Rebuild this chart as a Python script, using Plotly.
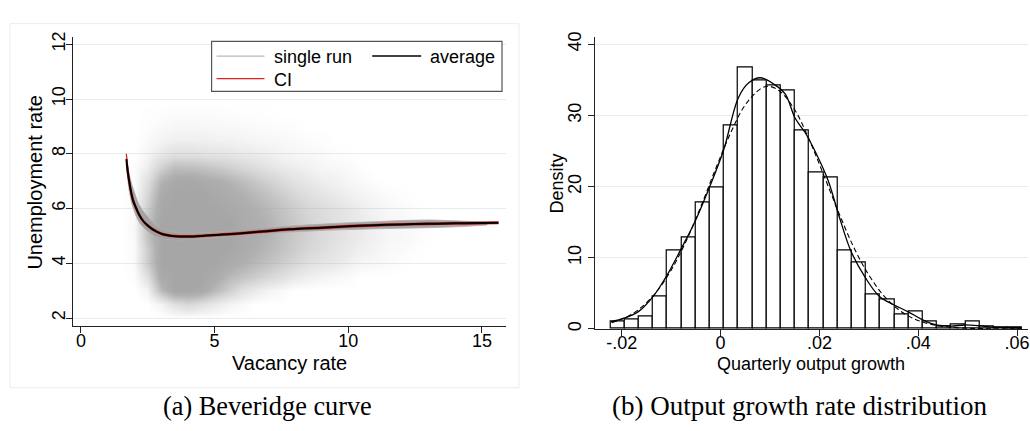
import plotly.graph_objects as go

W, H = 1030, 431
def X(px): return px / W
def Y(py): return 1 - py / H

# ---------------- Panel (a): Beveridge curve ----------------
# density grid of the simulated cloud (levels 0-5)
cloud_x = [1.5, 2.0, 2.5, 3.0, 3.5, 4.0, 4.5, 5.0, 5.5, 6.0, 6.5, 7.0, 7.5, 8.0, 8.5,
           9.0, 9.5, 10.0, 10.5, 11.0, 11.5, 12.0, 12.5, 13.0, 13.5, 14.0, 14.5]
cloud_y = [2.0, 2.5, 3.0, 3.5, 4.0, 4.5, 5.0, 5.5, 6.0, 6.5, 7.0, 7.5, 8.0, 8.5, 9.0, 9.5, 10.0]
cloud_z = [
    [0, 0, 0, 0, 0, 0, 0, 0, 0, 0, 0, 0, 0, 0, 0, 0, 0, 0, 0, 0, 0, 0, 0, 0, 0, 0, 0],
    [0, 0, 0, 0.5, 1.5, 2, 1.5, 1, 0.5, 0.3, 0, 0, 0, 0, 0, 0, 0, 0, 0, 0, 0, 0, 0, 0, 0, 0, 0],
    [0, 0, 0.5, 3.5, 5, 5, 4.7, 3.5, 2.5, 1.5, 1, 0.5, 0.3, 0, 0, 0, 0, 0, 0, 0, 0, 0, 0, 0, 0, 0, 0],
    [0, 0.1, 1.5, 4.5, 5, 5, 5, 4.5, 3.5, 3, 2.5, 2, 1.5, 1, 0.7, 0.5, 0.3, 0.2, 0, 0, 0, 0, 0, 0, 0, 0, 0],
    [0, 0.2, 2.5, 5, 5, 5, 5, 5, 4.5, 4, 3.5, 3, 2.5, 2, 1.5, 1.2, 1, 0.7, 0.4, 0.3, 0.2, 0.1, 0, 0, 0, 0, 0],
    [0, 0.2, 2.5, 5, 5, 5, 5, 5, 5, 4.5, 4, 3.5, 3, 2.5, 2, 1.7, 1.3, 1, 0.7, 0.5, 0.3, 0.2, 0.1, 0, 0, 0, 0],
    [0, 0.3, 3, 5, 5, 5, 5, 5, 5, 4.5, 4.2, 3.8, 3.2, 2.7, 2.2, 1.8, 1.5, 1.2, 0.9, 0.6, 0.4, 0.3, 0.2, 0.1, 0, 0, 0],
    [0, 0.3, 3, 5, 5, 5, 5, 5, 5, 4.5, 4.2, 3.8, 3.2, 2.7, 2.2, 1.8, 1.5, 1.2, 0.9, 0.6, 0.4, 0.3, 0.2, 0.1, 0, 0, 0],
    [0, 0.2, 2.5, 4.8, 5, 5, 5, 5, 4.7, 4.3, 4, 3.5, 3, 2.5, 2, 1.7, 1.4, 1.1, 0.8, 0.5, 0.3, 0.2, 0.1, 0, 0, 0, 0],
    [0, 0.2, 2, 4.5, 5, 5, 5, 4.7, 4.3, 4, 3.5, 3, 2.5, 2, 1.6, 1.3, 1, 0.7, 0.5, 0.3, 0.2, 0.1, 0, 0, 0, 0, 0],
    [0, 0.1, 1.5, 3.8, 4.7, 4.8, 4.5, 4.2, 3.8, 3.3, 2.8, 2.3, 1.8, 1.4, 1.1, 0.8, 0.6, 0.4, 0.2, 0.1, 0, 0, 0, 0, 0, 0, 0],
    [0, 0.1, 0.8, 2.3, 3.2, 3.2, 3.0, 2.7, 2.4, 2.0, 1.7, 1.3, 1.0, 0.8, 0.6, 0.4, 0.3, 0.2, 0.1, 0, 0, 0, 0, 0, 0, 0, 0],
    [0, 0, 0.4, 1.1, 1.5, 1.5, 1.4, 1.3, 1.2, 1.0, 0.9, 0.7, 0.5, 0.4, 0.3, 0.2, 0.1, 0.1, 0, 0, 0, 0, 0, 0, 0, 0, 0],
    [0, 0, 0.2, 0.5, 0.7, 0.7, 0.7, 0.6, 0.6, 0.5, 0.4, 0.35, 0.3, 0.2, 0.15, 0.1, 0, 0, 0, 0, 0, 0, 0, 0, 0, 0, 0],
    [0, 0, 0.1, 0.25, 0.35, 0.35, 0.35, 0.3, 0.3, 0.25, 0.2, 0.15, 0.1, 0.1, 0, 0, 0, 0, 0, 0, 0, 0, 0, 0, 0, 0, 0],
    [0, 0, 0.05, 0.1, 0.15, 0.15, 0.15, 0.15, 0.1, 0.1, 0.1, 0.05, 0, 0, 0, 0, 0, 0, 0, 0, 0, 0, 0, 0, 0, 0, 0],
    [0, 0, 0, 0, 0, 0, 0, 0, 0, 0, 0, 0, 0, 0, 0, 0, 0, 0, 0, 0, 0, 0, 0, 0, 0, 0, 0],
]

# envelope of single runs
runs_x = [1.72, 1.8, 1.9, 2.0, 2.15, 2.3, 2.5, 2.75, 3.0, 3.5, 4.0, 5.0, 6.0, 7.0, 8.0, 9.0, 10.0, 11.0, 12.0, 13.0, 14.0, 15.2]
runs_upper = [7.85, 7.3, 6.9, 6.6, 6.2, 5.95, 5.7, 5.42, 5.26, 5.13, 5.1, 5.14, 5.22, 5.3, 5.37, 5.43, 5.48, 5.52, 5.56, 5.58, 5.55, 5.5]
runs_lower = [7.4, 6.7, 6.2, 5.9, 5.55, 5.35, 5.18, 5.0, 4.9, 4.85, 4.86, 4.93, 5.02, 5.09, 5.15, 5.2, 5.23, 5.26, 5.28, 5.3, 5.33, 5.4]

# average curve and confidence band
avg_x = [1.70, 1.76, 1.82, 1.88, 1.95, 2.05, 2.19, 2.35, 2.56, 2.8, 3.06, 3.4, 3.68, 4.2, 4.68,
         5.3, 5.92, 6.8, 7.79, 9.0, 10.0, 11.0, 12.0, 13.0, 14.0, 15.0, 15.62]
avg_y = [7.80, 7.30, 6.92, 6.59, 6.30, 6.05, 5.75, 5.52, 5.33, 5.17, 5.06, 5.00, 4.98, 4.98, 5.01,
         5.05, 5.09, 5.16, 5.24, 5.30, 5.35, 5.39, 5.42, 5.44, 5.46, 5.47, 5.48]
ci_up = [8.00, 7.45, 7.04, 6.68, 6.37, 6.10, 5.79, 5.55, 5.36, 5.20, 5.09, 5.03, 5.01, 5.01, 5.04,
         5.08, 5.12, 5.19, 5.27, 5.33, 5.38, 5.42, 5.45, 5.47, 5.49, 5.50, 5.51]
ci_lo = [7.62, 7.16, 6.81, 6.50, 6.23, 6.00, 5.71, 5.49, 5.30, 5.14, 5.03, 4.97, 4.95, 4.95, 4.98,
         5.02, 5.06, 5.13, 5.21, 5.27, 5.32, 5.36, 5.39, 5.41, 5.43, 5.44, 5.45]

# ---------------- Panel (b): output growth ----------------
bin_centers = [-0.020844, -0.017971, -0.015098, -0.012225, -0.009352, -0.006479, -0.003606,
               -0.000733, 0.002140, 0.005013, 0.007886, 0.010759, 0.013632, 0.016505, 0.019378,
               0.022251, 0.025124, 0.027997, 0.030870, 0.033743, 0.036616, 0.039489, 0.042362,
               0.045235, 0.048108, 0.050981, 0.053854, 0.056727, 0.059600]
bin_width = 0.002873
density = [1.0, 1.3, 1.7, 4.5, 11.1, 12.9, 17.8, 19.9, 28.6, 36.7, 34.9, 34.2, 33.5, 27.9, 22.0,
           21.3, 11.1, 9.3, 4.8, 4.1, 2.0, 2.4, 1.0, 0.4, 0.65, 1.0, 0.35, 0.2, 0.2]

kde_x = [-0.0222, -0.0195, -0.0165, -0.0136, -0.0108, -0.0081, -0.0051, -0.0022, 0.0006, 0.0036,
         0.0057, 0.0081, 0.0110, 0.0131, 0.0151, 0.0171, 0.0191, 0.0218, 0.0240, 0.0264, 0.0293,
         0.0321, 0.0350, 0.0380, 0.0408, 0.0437, 0.0466, 0.0494, 0.0523, 0.0551, 0.0610]
kde_y = [1.0, 1.5, 2.5, 4.6, 7.6, 11.1, 15.2, 20.0, 25.1, 32.5, 34.6, 35.3, 34.3, 33.0, 29.6, 27.6,
         25.0, 20.8, 15.8, 10.9, 7.2, 4.6, 3.4, 2.4, 1.3, 0.55, 0.4, 0.55, 0.45, 0.25, 0.1]

norm_x = [-0.022, -0.019, -0.016, -0.013, -0.010, -0.007, -0.004, -0.001, 0.002, 0.005, 0.008,
          0.0097, 0.012, 0.015, 0.018, 0.021, 0.024, 0.027, 0.030, 0.033, 0.036, 0.039, 0.042,
          0.045, 0.048, 0.051, 0.054, 0.057, 0.061]
norm_y = [0.87, 1.68, 3.05, 5.19, 8.26, 12.3, 17.2, 22.5, 27.5, 31.5, 33.7, 34.1, 33.4, 30.8,
          26.5, 21.4, 16.2, 11.4, 7.57, 4.69, 2.72, 1.48, 0.75, 0.36, 0.16, 0.07, 0.03, 0.01, 0.0]

# ticks
a_xticks = [0, 5, 10, 15]
a_yticks = [2, 4, 6, 8, 10, 12]
b_xticks = [-0.02, 0, 0.02, 0.04, 0.06]
b_xticktext = ["-.02", "0", ".02", ".04", ".06"]
b_yticks = [0, 10, 20, 30, 40]

SANS = "Liberation Sans, Arial, Helvetica, sans-serif"
SERIF = "Liberation Serif, Times New Roman, serif"
CLOUD = "166,166,166"
RED = "#e3221c"

fig = go.Figure()

fig.add_trace(go.Heatmap(
    x=cloud_x, y=cloud_y, z=cloud_z, zmin=0, zmax=5, zsmooth="best",
    colorscale=[[0, f"rgba({CLOUD},0)"], [0.06, f"rgba({CLOUD},0.08)"], [0.2, f"rgba({CLOUD},0.25)"],
                [0.4, f"rgba({CLOUD},0.45)"], [0.6, f"rgba({CLOUD},0.68)"], [0.8, f"rgba({CLOUD},0.9)"],
                [1, f"rgba({CLOUD},1)"]],
    showscale=False, hoverinfo="skip", xaxis="x", yaxis="y"))

fig.add_trace(go.Scatter(x=runs_x, y=runs_lower, mode="lines", line=dict(color="#b0b0b0", width=0.8, shape="spline"),
                         showlegend=False, hoverinfo="skip", xaxis="x", yaxis="y"))
fig.add_trace(go.Scatter(x=runs_x, y=runs_upper, mode="lines", line=dict(color="#b0b0b0", width=0.8, shape="spline"),
                         fill="tonexty", fillcolor="rgba(160,160,160,0.95)",
                         showlegend=False, hoverinfo="skip", xaxis="x", yaxis="y"))
fig.add_trace(go.Scatter(x=avg_x, y=ci_up, mode="lines", line=dict(color=RED, width=1.3, shape="spline"),
                         showlegend=False, xaxis="x", yaxis="y"))
fig.add_trace(go.Scatter(x=avg_x, y=ci_lo, mode="lines", line=dict(color=RED, width=1.3, shape="spline"),
                         showlegend=False, xaxis="x", yaxis="y"))
fig.add_trace(go.Scatter(x=avg_x, y=avg_y, mode="lines", line=dict(color="black", width=2, shape="spline"),
                         showlegend=False, xaxis="x", yaxis="y"))

fig.add_trace(go.Bar(x=bin_centers, y=density, width=bin_width,
                     marker=dict(color="white", line=dict(color="black", width=1.2)),
                     showlegend=False, xaxis="x2", yaxis="y2"))
fig.add_trace(go.Scatter(x=norm_x, y=norm_y, mode="lines",
                         line=dict(color="black", width=1.1, dash="5px,3px", shape="spline"),
                         showlegend=False, xaxis="x2", yaxis="y2"))
fig.add_trace(go.Scatter(x=kde_x, y=kde_y, mode="lines", line=dict(color="black", width=1.3, shape="spline"),
                         showlegend=False, xaxis="x2", yaxis="y2"))

axis_common = dict(showline=True, linecolor="#222", linewidth=1, ticks="outside", ticklen=6,
                   tickcolor="#222", tickwidth=1, zeroline=False, ticklabeloverflow="allow",
                   tickfont=dict(family=SANS, size=18, color="black"))
grid = dict(showgrid=True, gridcolor="#e4eef0", gridwidth=1)

fig.update_layout(
    width=W, height=H, margin=dict(l=0, r=0, t=0, b=0),
    paper_bgcolor="white", plot_bgcolor="rgba(0,0,0,0)", bargap=0, showlegend=False,
    xaxis=dict(domain=[X(73), X(507)], range=[-0.3, 15.9], tickvals=a_xticks, anchor="y",
               showgrid=False, ticklabelstandoff=-8, **axis_common),
    yaxis=dict(domain=[Y(326), Y(32)], range=[1.71, 12.25], tickvals=a_yticks, tickangle=-90,
               anchor="x", ticklabelstandoff=-6, **grid, **axis_common),
    xaxis2=dict(domain=[X(596), 1.0], range=[-0.02545, 0.06222], tickvals=b_xticks,
                ticktext=b_xticktext, anchor="y2", showgrid=False, ticklabelstandoff=-8,
                **axis_common),
    yaxis2=dict(domain=[Y(329), Y(32)], range=[0, 40.97], tickvals=b_yticks, tickangle=-90,
                anchor="x2", **grid, **axis_common),
)

shapes = [
    dict(type="rect", xref="paper", yref="paper", x0=X(10), x1=X(520), y0=Y(389), y1=Y(18),
         line=dict(color="#ececec", width=1), layer="below"),
    dict(type="rect", xref="paper", yref="paper", x0=X(212), x1=X(503), y0=Y(87), y1=Y(36),
         line=dict(color="#555", width=1.2), fillcolor="white", layer="above"),
    dict(type="line", xref="paper", yref="paper", x0=X(217), x1=X(265), y0=Y(51), y1=Y(51),
         line=dict(color="#b8b8b8", width=1.2), layer="above"),
    dict(type="line", xref="paper", yref="paper", x0=X(373), x1=X(422), y0=Y(51), y1=Y(51),
         line=dict(color="black", width=1.6), layer="above"),
    dict(type="line", xref="paper", yref="paper", x0=X(217), x1=X(265), y0=Y(74), y1=Y(74),
         line=dict(color=RED, width=1.3), layer="above"),
]
fig.update_layout(shapes=shapes)

def ann(text, x, y, size, family=SANS, angle=0, xanchor="center"):
    return dict(text=text, x=x, y=y, xref="paper", yref="paper", showarrow=False,
                xanchor=xanchor, yanchor="middle", textangle=angle,
                font=dict(family=family, size=size, color="black"))

fig.update_layout(annotations=[
    ann("single run", X(273), Y(52), 18, xanchor="left"),
    ann("average", X(429), Y(52), 18, xanchor="left"),
    ann("CI", X(273), Y(75), 18, xanchor="left"),
    ann("Vacancy rate", X(290), Y(364), 20),
    ann("Unemployment rate", X(35), Y(179), 20, angle=-90),
    ann("Density", X(558), Y(181), 18, angle=-90),
    ann("Quarterly output growth", X(813), Y(365), 18),
    ann("(a) Beveridge curve", X(268.5), Y(408), 26.3, family=SERIF),
    ann("(b) Output growth rate distribution", X(801), Y(408), 27, family=SERIF),
])

fig.write_html(
    "out.html",
    config={"displayModeBar": False},
    post_script="document.body.style.margin='0';document.body.style.padding='0';"
                "document.body.style.overflow='hidden';",
)
